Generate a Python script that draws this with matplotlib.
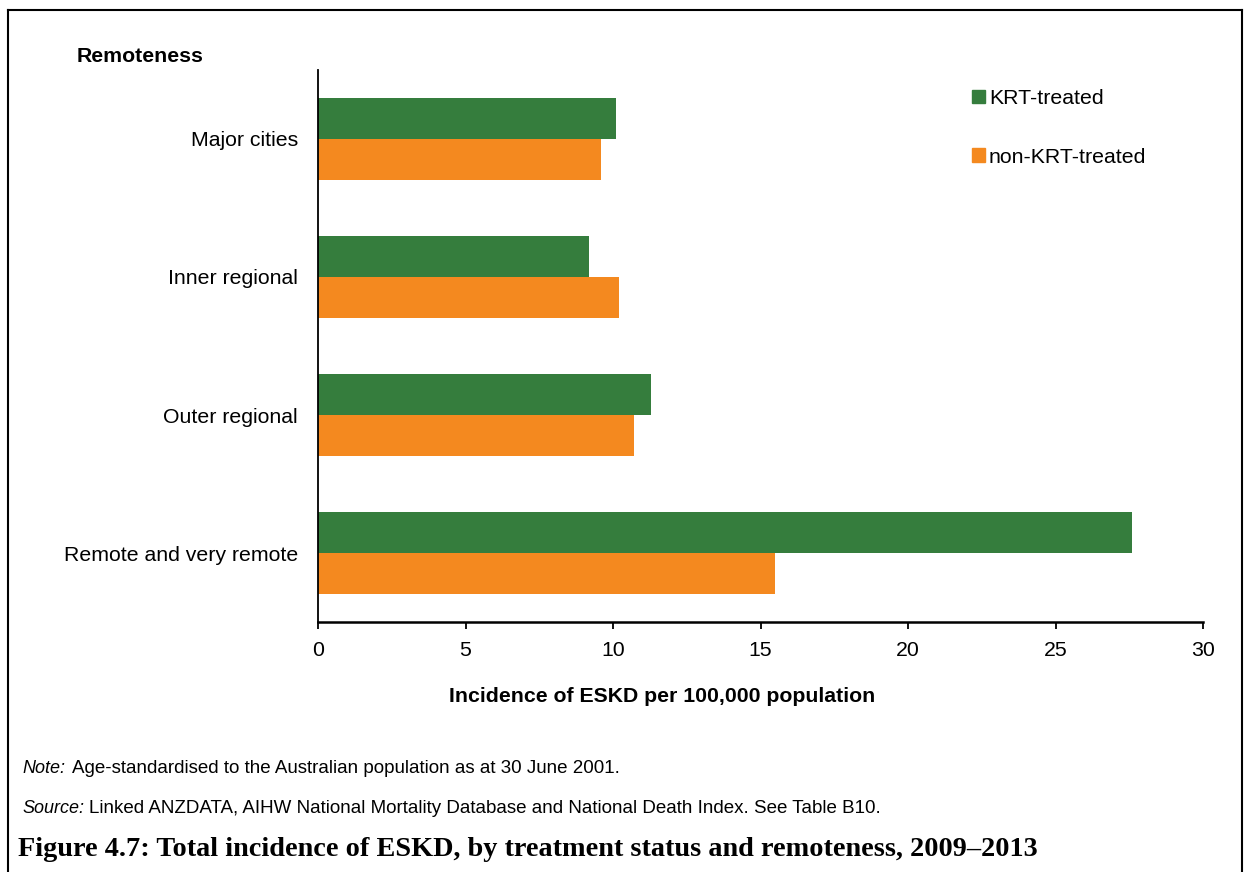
import numpy as np
import matplotlib
matplotlib.use('Agg')
import matplotlib.pyplot as plt
from matplotlib.lines import Line2D
from matplotlib.patches import Patch

# data
categories = ['Major cities', 'Inner regional', 'Outer regional', 'Remote and very remote']
krt_treated = [10.1, 9.2, 11.3, 27.6]
non_krt_treated = [9.6, 10.2, 10.7, 15.5]
series_names = ['KRT-treated', 'non-KRT-treated']
x_ticks = [0, 5, 10, 15, 20, 25, 30]

green = '#357d3d'
orange = '#f4891f'
fs = 15.3   # 11pt excel text at this scale

plt.rcParams['font.family'] = ['Liberation Sans', 'DejaVu Sans']

W, H = 1245, 872
fig = plt.figure(figsize=(W / 100, H / 100), dpi=100)
ax = fig.add_axes([318 / W, 1 - 622 / H, (1203 - 318) / W, (622 - 70) / H])

y = np.arange(len(categories))
bar_h = 0.296
ax.barh(y - bar_h / 2, krt_treated, height=bar_h, color=green, label=series_names[0])
ax.barh(y + bar_h / 2, non_krt_treated, height=bar_h, color=orange, label=series_names[1])

ax.set_ylim(len(categories) - 0.5, -0.5)
ax.set_xlim(0, 30)
ax.set_xticks(x_ticks)
ax.set_xticklabels([str(t) for t in x_ticks], fontsize=fs)
ax.set_yticks(y)
ax.set_yticklabels(categories, fontsize=fs)
ax.tick_params(axis='y', length=0, pad=14.4)
ax.tick_params(axis='x', direction='out', length=5, width=1.3, pad=9)
for s in ['top', 'right']:
    ax.spines[s].set_visible(False)
ax.spines['bottom'].set_linewidth(1.8)
ax.spines['left'].set_linewidth(1.3)

# axis title sits left of the axes centre in the original
fig.text(662 / W, 1 - 696 / H, 'Incidence of ESKD per 100,000 population', fontsize=fs,
         fontweight='bold', ha='center', va='center')

fig.text(77 / W, 1 - 56 / H, 'Remoteness', fontsize=fs, fontweight='bold',
         va='center', ha='left')

handles = [Patch(color=green), Patch(color=orange)]
fig.legend(handles, series_names, loc='upper left',
           bbox_to_anchor=(972 / W, 1 - 89 / H), bbox_transform=fig.transFigure,
           frameon=False, fontsize=fs, handlelength=0.61, handleheight=0.61,
           handletextpad=0.19, labelspacing=1.86, borderpad=0, borderaxespad=0)

# footnotes
fn = 13.5
fig.text(22 / W, 1 - 768 / H, 'Note:', fontsize=13, va='center', style='italic')
fig.text(72 / W, 1 - 768 / H, 'Age-standardised to the Australian population as at 30 June 2001.',
         fontsize=fn, va='center')
fig.text(22 / W, 1 - 808 / H, 'Source:', fontsize=13, va='center', style='italic')
fig.text(89 / W, 1 - 808 / H,
         'Linked ANZDATA, AIHW National Mortality Database and National Death Index. See Table B10.',
         fontsize=fn, va='center')
fig.text(18 / W, 1 - 849 / H,
         'Figure 4.7: Total incidence of ESKD, by treatment status and remoteness, 2009\u20132013',
         fontsize=20.3, fontweight='bold', va='center', family=['Liberation Serif', 'DejaVu Serif'])

# outer frame
x0, x1, y0 = 8 / W, 1242 / W, 1 - 10 / H
fig.add_artist(Line2D([x0, x0], [0, y0], color='black', lw=1.5))
fig.add_artist(Line2D([x0, x1], [y0, y0], color='black', lw=1.5))
fig.add_artist(Line2D([x1, x1], [0, y0], color='black', lw=1.5))

fig.savefig('out.png', dpi=100)
